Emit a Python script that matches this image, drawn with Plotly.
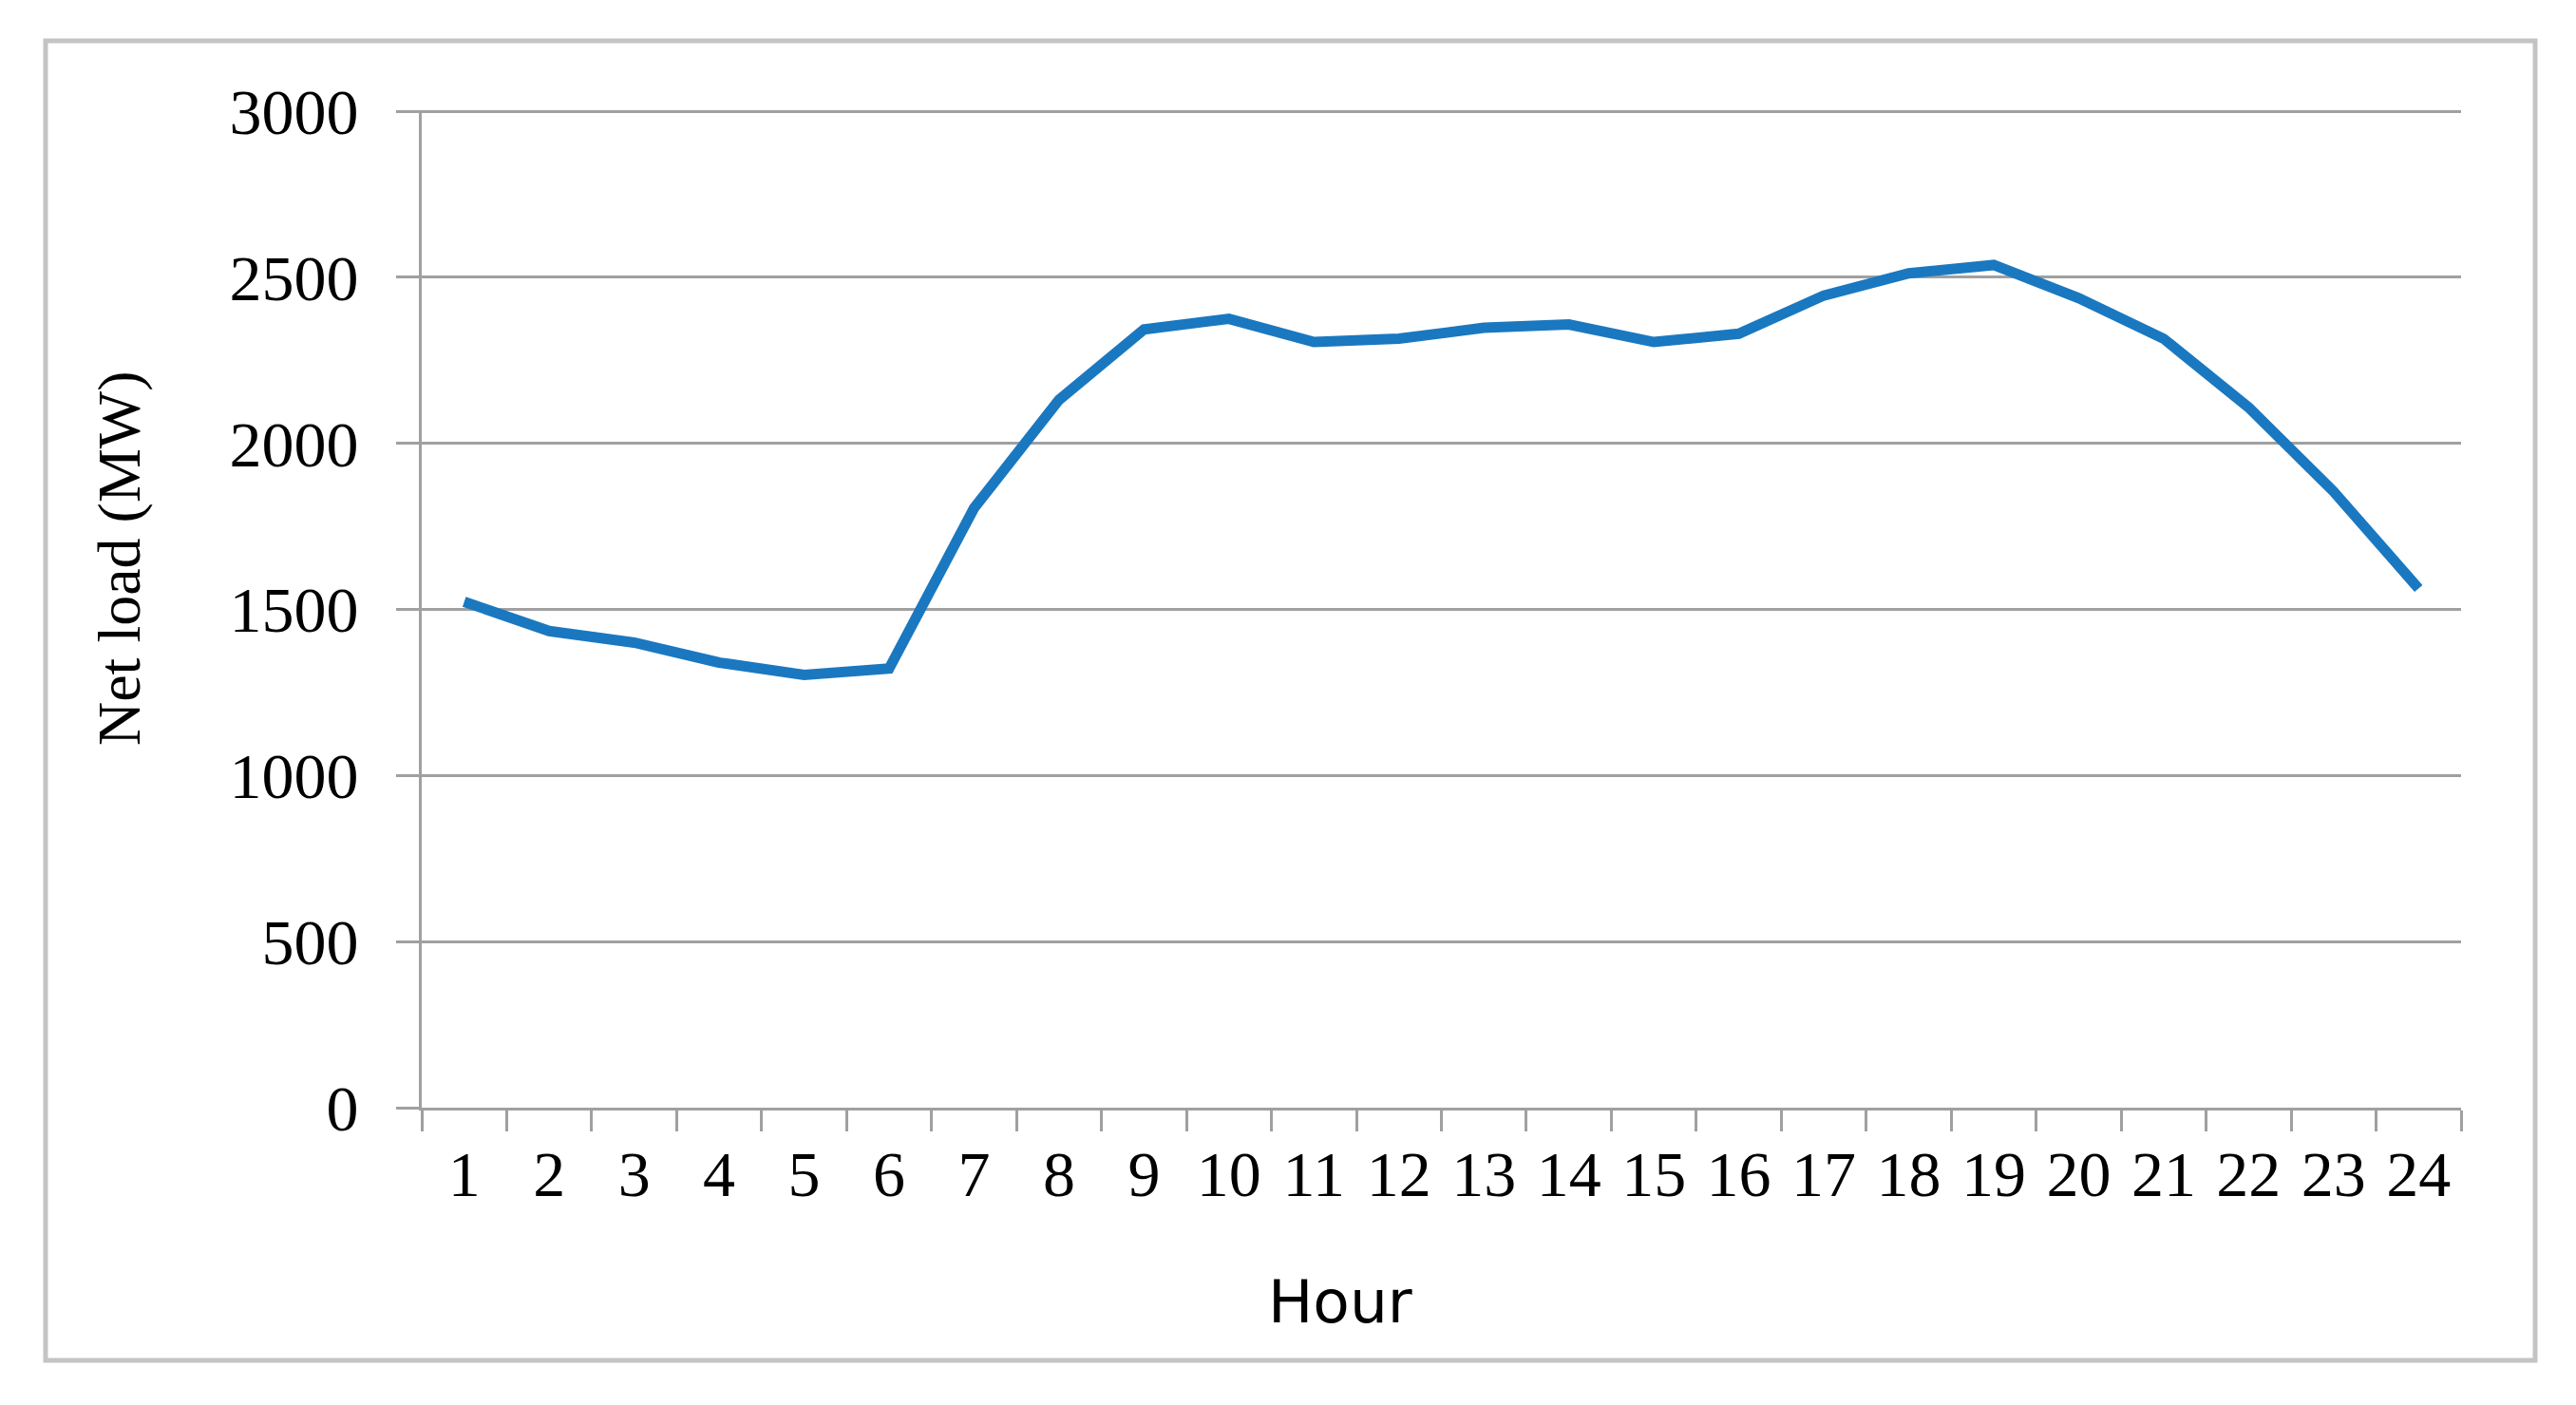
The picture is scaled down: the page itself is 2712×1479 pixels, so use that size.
import plotly.graph_objects as go

hours = [str(h) for h in range(1, 25)]
net_load = [1523, 1435, 1400, 1340, 1303, 1322, 1805, 2131, 2343, 2375, 2305, 2315,
            2348, 2358, 2305, 2330, 2445, 2512, 2537, 2437, 2315, 2108, 1855, 1563]
y_ticks = [0, 500, 1000, 1500, 2000, 2500, 3000]

# page body has an 8px margin; positions below are page pixels minus that offset
OFF = 8
W, H = 2712 - OFF, 1479 - OFF
L, R, T, B = 444 - OFF, 2591 - OFF, 116 - OFF, 1166 - OFF
pw, ph = R - L, B - T

def px(x):
    return (x - OFF - L) / pw

def py(y):
    return (B - (y - OFF)) / ph

fig = go.Figure()
fig.add_trace(go.Scatter(x=hours, y=net_load, mode="lines",
                         line=dict(color="#1a78c0", width=11), showlegend=False))

grid_col = "#a0a0a0"
fig.update_layout(
    width=W, height=H,
    margin=dict(l=L, r=W - R, t=T, b=H - B),
    paper_bgcolor="white", plot_bgcolor="white",
    xaxis=dict(type="category", range=[-0.5, len(hours) - 0.5], tickson="boundaries",
               ticks="outside", ticklen=22,
               tickwidth=3, tickcolor=grid_col, showline=True, linecolor=grid_col,
               linewidth=3, showgrid=False, zeroline=False,
               tickfont=dict(family="Liberation Serif", size=68, color="black"),
               ticklabelstandoff=8),
    yaxis=dict(range=[0, 3003], tickvals=y_ticks, ticks="outside", ticklen=24,
               tickwidth=3, tickcolor=grid_col, showline=True, linecolor=grid_col,
               linewidth=3, showgrid=True, gridcolor=grid_col, gridwidth=3,
               zeroline=False,
               tickfont=dict(family="Liberation Serif", size=68, color="black"),
               ticklabelstandoff=26),
    shapes=[dict(type="rect", xref="paper", yref="paper",
                 x0=px(48), x1=px(2669), y0=py(1432), y1=py(43),
                 line=dict(color="#c4c4c4", width=5), layer="below")],
    annotations=[
        dict(text="Net load (MW)", xref="paper", yref="paper", x=px(125), y=py(588),
             textangle=-90, showarrow=False, xanchor="center", yanchor="middle",
             font=dict(family="Liberation Serif", size=64, color="black")),
        dict(text="Hour", xref="paper", yref="paper", x=px(1411), y=py(1370),
             showarrow=False, xanchor="center", yanchor="middle",
             font=dict(family="DejaVu Sans", size=63, color="black")),
    ],
)

fig.write_html("out.html")
